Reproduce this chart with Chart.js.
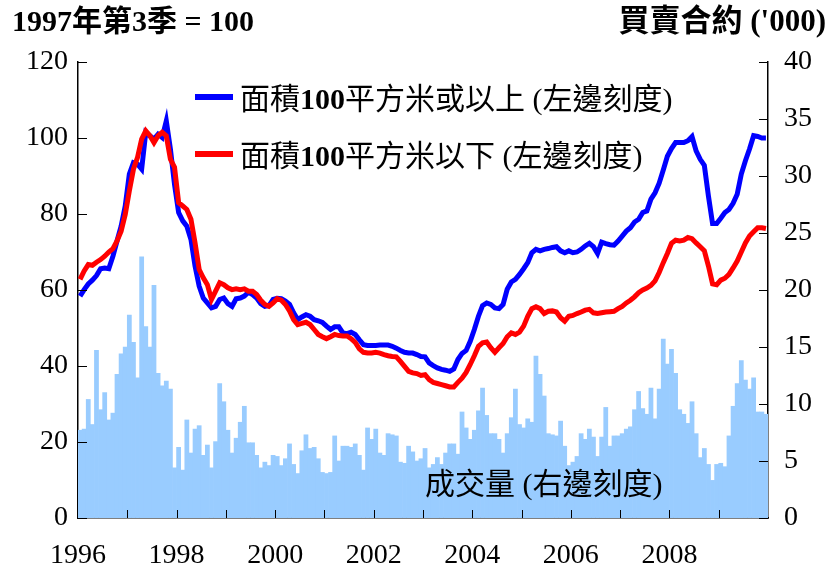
<!DOCTYPE html>
<html>
<head>
<meta charset="utf-8">
<script src="https://cdn.jsdelivr.net/npm/chart.js@4.4.0/dist/chart.umd.min.js"></script>
<style>
  body { margin: 0; background: #fff; }
  #wrap { position: relative; width: 831px; height: 578px; }
  .txt { position: absolute; white-space: nowrap; color: #000; line-height: 30px;
         font-family: 'Liberation Serif', 'Noto Sans CJK TC', serif; }
  .bold { font-weight: bold; }
  .key { position: absolute; height: 6px; width: 38px; }
</style>
</head>
<body>
<div id="wrap">
  <canvas id="chart" width="831" height="578"></canvas>
  <div class="txt bold" style="left:12px; top:6px; font-size:30px;">1997年第3季 = 100</div>
  <div class="txt bold" style="right:5px; top:6px; font-size:31px;">買賣合約 ('000)</div>
  <div class="key" style="left:195px; top:94px; background:#0000ff;"></div>
  <div class="txt" style="left:240px; top:84px; font-size:30px;">面積<b>100</b>平方米或以上 (左邊刻度)</div>
  <div class="key" style="left:195px; top:151px; background:#ff0000;"></div>
  <div class="txt" style="left:240px; top:141px; font-size:30px;">面積<b>100</b>平方米以下 (左邊刻度)</div>
  <div class="txt" style="left:425px; top:469px; font-size:30px;">成交量 (右邊刻度)</div>
</div>
<script>
// monthly, Jan 1996 - Dec 2009
var yearLabels = ['1996', '1998', '2000', '2002', '2004', '2006', '2008'];

// index, 1997 Q3 = 100, flats of 100 sq m or above
var bigFlats = [
    58.4, 60.1, 61.6, 62.6, 63.8, 65.6, 65.8, 65.6, 68.9, 72.9, 76.8, 82.1,
    90.5, 93.5, 93.1, 91.8, 101.5, 100.6, 99.7, 101.0, 100.1, 104.5, 97.1, 87.8,
    80.4, 78.2, 76.8, 73.3, 66.3, 61.0, 57.9, 56.6, 55.3, 55.7, 57.5, 57.9,
    56.4, 55.7, 57.7, 57.9, 58.4, 59.4, 58.8, 57.9, 56.4, 55.7, 55.9, 57.5,
    57.8, 57.7, 57.1, 56.2, 54.0, 52.2, 52.9, 53.5, 53.1, 52.2, 51.9, 51.5,
    50.5, 49.6, 50.3, 50.3, 48.7, 48.5, 48.9, 48.3, 46.9, 45.6, 45.4, 45.4,
    45.4, 45.5, 45.5, 45.5, 45.2, 44.7, 44.1, 43.6, 43.4, 43.4, 43.0, 42.5,
    42.4, 40.8, 40.1, 39.5, 39.1, 38.9, 38.6, 39.2, 41.7, 43.3, 44.1, 46.5,
    49.6, 53.1, 55.9, 56.6, 56.2, 55.3, 55.1, 56.2, 60.2, 62.1, 62.8, 64.1,
    65.6, 67.2, 69.8, 70.7, 70.3, 70.7, 70.9, 71.2, 71.4, 70.3, 69.8, 70.3,
    69.8, 70.0, 70.7, 71.6, 72.3, 71.4, 69.6, 72.6, 72.2, 71.9, 71.8, 72.9,
    74.2, 75.5, 76.4, 77.9, 78.6, 80.4, 80.8, 83.9, 85.6, 88.1, 91.6, 95.2,
    97.2, 98.8, 98.8, 98.8, 99.3, 100.4, 96.6, 94.4, 92.8, 84.7, 77.5, 77.5,
    78.9, 80.4, 81.2, 82.8, 85.2, 90.5, 94.0, 97.1, 100.6, 100.4, 100.0, 100.0
];

// index, flats below 100 sq m
var smallFlats = [
    62.8, 65.0, 66.7, 66.5, 67.3, 68.0, 68.9, 70.0, 70.9, 72.9, 75.5, 79.9,
    86.1, 91.8, 94.9, 99.7, 101.9, 100.6, 98.8, 100.6, 101.5, 100.6, 94.4, 92.3,
    83.0, 82.1, 81.2, 78.6, 72.4, 65.4, 63.2, 61.4, 57.5, 59.7, 61.9, 61.4,
    60.6, 60.1, 60.3, 60.1, 60.3, 59.7, 59.7, 58.8, 57.3, 56.2, 55.7, 56.6,
    57.7, 57.3, 56.2, 54.5, 52.2, 50.9, 51.2, 51.5, 50.9, 49.6, 48.3, 47.7,
    47.2, 47.7, 48.3, 48.0, 47.9, 47.9, 47.2, 46.2, 44.5, 43.6, 43.4, 43.4,
    43.6, 43.4, 43.0, 42.7, 42.5, 42.4, 41.2, 39.9, 38.6, 38.2, 38.0, 37.5,
    37.7, 36.4, 35.7, 35.4, 35.1, 34.8, 34.5, 34.5, 35.7, 36.8, 38.3, 40.4,
    42.7, 45.2, 46.1, 46.3, 44.8, 43.6, 44.8, 45.9, 47.7, 48.7, 48.3, 48.9,
    50.5, 53.1, 55.1, 55.6, 55.1, 53.8, 54.4, 54.5, 54.2, 52.7, 51.8, 53.1,
    53.3, 53.8, 54.2, 54.7, 54.9, 54.0, 53.8, 54.0, 54.2, 54.3, 54.4, 55.1,
    55.7, 56.6, 57.3, 58.2, 59.3, 60.0, 60.5, 61.2, 62.4, 64.6, 67.2, 69.6,
    72.3, 73.1, 72.9, 73.1, 73.8, 73.5, 72.4, 71.4, 70.3, 66.3, 61.6, 61.4,
    62.6, 63.1, 64.1, 65.8, 67.6, 70.0, 72.4, 74.2, 75.3, 76.4, 76.4, 76.2
];

// sale and purchase agreements, '000
var volume = [
    7.7, 7.8, 10.4, 8.2, 14.7, 9.5, 11.0, 8.6, 9.2, 12.6, 14.4, 15.0,
    17.8, 15.4, 12.3, 22.9, 16.8, 15.0, 20.4, 12.7, 11.6, 12.0, 11.3, 4.4,
    6.2, 4.2, 8.6, 5.7, 7.8, 8.1, 5.5, 6.4, 4.4, 6.7, 11.8, 10.2,
    7.7, 5.7, 7.0, 8.4, 9.8, 6.6, 6.6, 5.5, 4.4, 4.9, 4.6, 5.5,
    5.4, 4.6, 5.2, 6.5, 4.7, 3.9, 5.9, 7.3, 6.1, 6.2, 5.2, 4.0,
    3.9, 4.0, 7.2, 5.0, 6.3, 6.3, 6.2, 6.5, 5.5, 4.2, 7.9, 6.9,
    7.8, 5.7, 5.5, 7.4, 7.3, 7.2, 4.9, 4.8, 6.3, 5.8, 5.0, 5.2,
    6.1, 4.4, 4.7, 5.3, 4.7, 5.7, 6.5, 6.5, 5.6, 9.3, 7.9, 6.9,
    7.7, 9.4, 11.4, 9.0, 7.4, 7.4, 6.9, 5.7, 7.4, 8.8, 11.3, 8.2,
    7.9, 8.7, 8.4, 14.2, 12.6, 10.7, 7.4, 7.3, 7.2, 8.5, 6.3, 4.6,
    4.9, 5.4, 7.4, 6.9, 7.8, 7.1, 5.4, 7.1, 9.7, 6.3, 7.2, 7.2,
    7.4, 7.8, 8.0, 9.5, 11.1, 9.6, 9.1, 11.4, 8.7, 11.3, 15.7, 13.5,
    14.8, 12.7, 9.5, 9.1, 8.3, 10.2, 7.4, 5.3, 6.1, 4.7, 3.3, 4.7,
    4.8, 4.5, 7.2, 9.8, 11.8, 13.8, 12.1, 11.3, 12.3, 9.3, 9.3, 9.1
];

function monthly(arr) {
    return arr.map(function (v, i) { return { x: i + 0.5, y: v }; });
}

var tickFont = { family: "'Liberation Serif', serif", size: 28 };

// short tick marks drawn inside the plot, like the original
var innerTicks = {
    id: 'innerTicks',
    afterDatasetsDraw: function (chart) {
        var c = chart.ctx, a = chart.chartArea, s = chart.scales;
        c.save();
        c.strokeStyle = '#000';
        c.lineWidth = 1;
        c.beginPath();
        for (var v = 0; v <= 120; v += 20) {
            var py = Math.round(s.y.getPixelForValue(v)) + 0.5;
            c.moveTo(a.left, py); c.lineTo(a.left + 9, py);
        }
        for (var w = 0; w <= 40; w += 5) {
            var qy = Math.round(s.y1.getPixelForValue(w)) + 0.5;
            c.moveTo(a.right - 9, qy); c.lineTo(a.right, qy);
        }
        for (var m = 12; m < 168; m += 12) {
            var px = Math.round(s.x.getPixelForValue(m)) + 0.5;
            c.moveTo(px, a.bottom); c.lineTo(px, a.bottom - 8);
        }
        c.stroke();
        c.restore();
    }
};

var ctx = document.getElementById('chart').getContext('2d');
var chart = new Chart(ctx, {
    data: {
        datasets: [{
            type: 'line',
            label: '面積100平方米以下',
            data: monthly(smallFlats),
            borderColor: '#ff0000',
            borderWidth: 5,
            pointRadius: 0,
            yAxisID: 'y',
            order: 1
        }, {
            type: 'line',
            label: '面積100平方米或以上',
            data: monthly(bigFlats),
            borderColor: '#0000ff',
            borderWidth: 5,
            pointRadius: 0,
            yAxisID: 'y',
            order: 2
        }, {
            type: 'bar',
            label: '成交量',
            data: monthly(volume),
            backgroundColor: '#99ccff',
            borderWidth: 0,
            barPercentage: 1,
            categoryPercentage: 1,
            yAxisID: 'y1',
            order: 3
        }]
    },
    options: {
        responsive: false,
        animation: false,
        devicePixelRatio: 1,
        layout: { padding: { top: 62, left: 0, right: 0, bottom: 0 } },
        plugins: { legend: { display: false }, tooltip: { enabled: false } },
        scales: {
            x: {
                type: 'linear',
                min: 0,
                max: 168,
                offset: false,
                grid: { display: false, drawTicks: false, offset: false },
                border: { display: true, color: '#000', width: 1.5 },
                ticks: {
                    stepSize: 24,
                    autoSkip: false,
                    maxRotation: 0,
                    padding: 21,
                    color: '#000',
                    font: tickFont,
                    callback: function (v) { return yearLabels[v / 24] || ''; }
                },
                afterFit: function (scale) { scale.height = 60; }
            },
            y: {
                position: 'left',
                min: 0,
                max: 120,
                grid: { display: false, drawTicks: false },
                border: { display: true, color: '#000', width: 1.5 },
                ticks: { stepSize: 20, padding: 10, color: '#000', font: tickFont },
                afterFit: function (scale) { scale.width = 78; }
            },
            y1: {
                position: 'right',
                min: 0,
                max: 40,
                grid: { display: false, drawTicks: false },
                border: { display: true, color: '#000', width: 1.5 },
                ticks: { stepSize: 5, padding: 16, color: '#000', font: tickFont },
                afterFit: function (scale) { scale.width = 63; }
            }
        }
    },
    plugins: [innerTicks]
});
</script>
</body>
</html>
